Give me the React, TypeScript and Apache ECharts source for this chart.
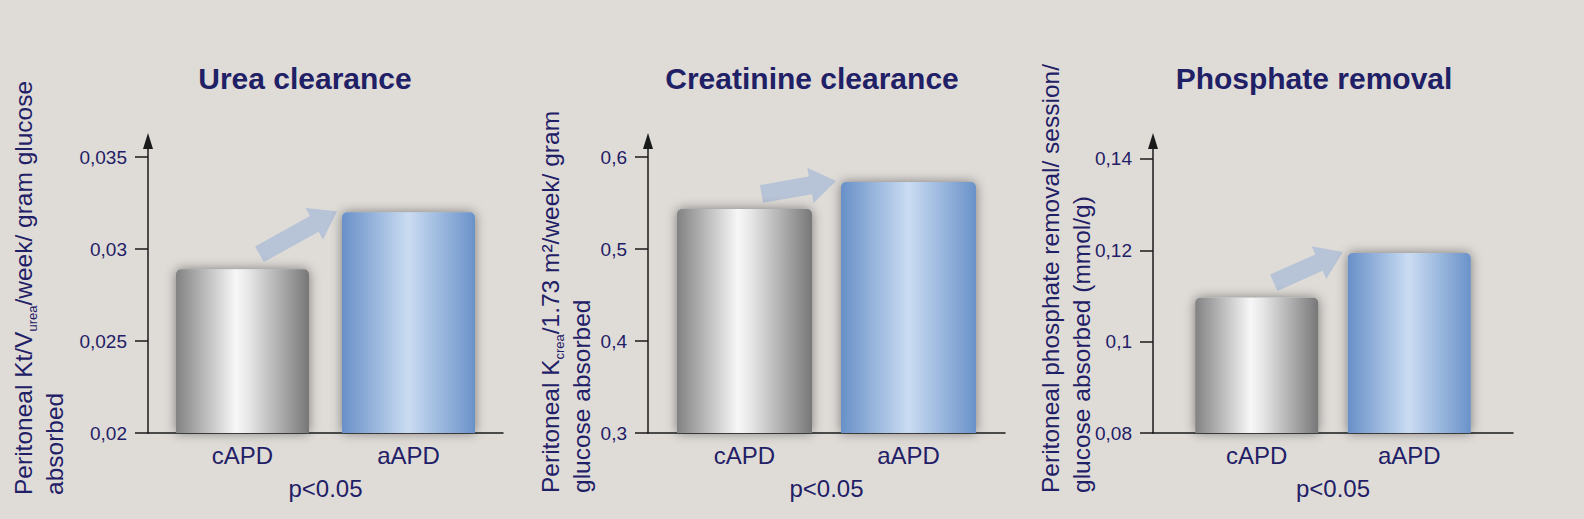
import React, { useEffect, useRef } from 'react';
import * as echarts from 'echarts';

// data
const categories = ['cAPD', 'aAPD'];
const panelTitles = ['Urea clearance', 'Creatinine clearance', 'Phosphate removal'];
const cAPDValues = [0.0289, 0.5435, 0.1096];
const aAPDValues = [0.032, 0.5728, 0.1194];
const ureaTicks = [0.02, 0.025, 0.03, 0.035];
const creaTicks = [0.3, 0.4, 0.5, 0.6];
const phosTicks = [0.08, 0.1, 0.12, 0.14];
const yTicks = [ureaTicks, creaTicks, phosTicks];
const yMax = [0.03587, 0.6174, 0.14394];
const pLabel = 'p<0.05';
const yNames = [
  '{m|Peritoneal Kt/V}{s|urea}{m|/week/ gram glucose}\n{m|absorbed}',
  '{m|Peritoneal K}{s|crea}{m|/1.73 m²/week/ gram}\n{m|glucose absorbed}',
  '{m|Peritoneal phosphate removal/ session/}\n{m|glucose absorbed (mmol/g)}',
];

// layout of the three panels
const panels = [
  { left: 148, width: 355, shift: 5.75, barW: 133, titleX: 305, nameX: 8, nameY: 495 },
  { left: 648, width: 357, shift: 7.25, barW: 135, titleX: 812, nameX: 535, nameY: 493 },
  { left: 1153, width: 360, shift: 13.75, barW: 123, titleX: 1314, nameX: 1035, nameY: 493 },
];

const FONT = '"Liberation Sans", Arial, Helvetica, sans-serif';
const NAVY = '#1f2066';
const BG = '#dfdcd8';

const grayFill = new echarts.graphic.LinearGradient(0, 0, 1, 0, [
  { offset: 0, color: '#828282' },
  { offset: 0.2, color: '#b6b6b6' },
  { offset: 0.45, color: '#f7f7f7' },
  { offset: 0.55, color: '#e6e6e6' },
  { offset: 0.8, color: '#a9a9a9' },
  { offset: 1, color: '#777777' },
]);
const blueFill = new echarts.graphic.LinearGradient(0, 0, 1, 0, [
  { offset: 0, color: '#6890c8' },
  { offset: 0.5, color: '#cadcf2' },
  { offset: 1, color: '#6a92c9' },
]);

const App: React.FC = () => {
  const chartRef = useRef<HTMLDivElement>(null);

  useEffect(() => {
    document.body.style.margin = '0';
    document.body.style.overflow = 'hidden';
    if (!chartRef.current) return;
    const chart = echarts.init(chartRef.current, null, { renderer: 'svg' });

    const grid: any[] = [];
    const xAxis: any[] = [];
    const yAxis: any[] = [];
    const series: any[] = [];
    const graphic: any[] = [];

    panels.forEach((p, i) => {
      grid.push({ left: p.left, width: p.width, top: 141, bottom: 86, outerBoundsMode: 'none' });

      xAxis.push({
        type: 'category',
        gridIndex: i,
        data: categories,
        axisLine: { lineStyle: { color: '#1a1a1a', width: 1.5 } },
        axisTick: { show: false },
        axisLabel: {
          margin: 8,
          formatter: (v: string) => (v === categories[0] ? `{r|${v}}` : `{l|${v}}`),
          rich: {
            r: { fontSize: 24, fontFamily: FONT, color: NAVY, lineHeight: 28, padding: [0, 0, 0, 2 * p.shift] },
            l: { fontSize: 24, fontFamily: FONT, color: NAVY, lineHeight: 28, padding: [0, 2 * p.shift, 0, 0] },
          },
        },
        name: pLabel,
        nameLocation: 'middle',
        nameGap: 41,
        nameTextStyle: { fontSize: 24, fontFamily: FONT, color: NAVY, lineHeight: 28 },
      });

      yAxis.push({
        type: 'value',
        gridIndex: i,
        min: yTicks[i][0],
        max: yMax[i],
        splitLine: { show: false },
        axisLine: {
          show: true,
          symbol: ['none', 'triangle'],
          symbolSize: [10, 16],
          lineStyle: { color: '#1a1a1a', width: 1.5 },
        },
        axisTick: {
          show: true,
          length: 13,
          customValues: yTicks[i],
          lineStyle: { color: '#1a1a1a', width: 1.5 },
        },
        axisLabel: {
          customValues: yTicks[i],
          margin: 21,
          fontSize: 19,
          fontFamily: FONT,
          color: NAVY,
          formatter: (v: number) => String(v).replace('.', ','),
        },
      });

      const barGap = `${((2 * p.shift) / p.barW - 1) * 100}%`;
      const barStyle = { shadowBlur: 12, shadowColor: 'rgba(0,0,0,0.45)', borderRadius: [5, 5, 0, 0] };

      // aAPD first so it takes the left slot, cAPD takes the right slot
      series.push({
        type: 'bar',
        xAxisIndex: i,
        yAxisIndex: i,
        data: ['-', aAPDValues[i]],
        barWidth: p.barW,
        barGap,
        z: 3,
        itemStyle: { ...barStyle, color: blueFill },
      });
      series.push({
        type: 'bar',
        xAxisIndex: i,
        yAxisIndex: i,
        data: [cAPDValues[i], '-'],
        barWidth: p.barW,
        barGap,
        z: 3,
        itemStyle: { ...barStyle, color: grayFill },
      });

      // arrow from the cAPD bar to the aAPD bar
      series.push({
        type: 'custom',
        xAxisIndex: i,
        yAxisIndex: i,
        silent: true,
        z: 2,
        encode: { x: 0, y: 1 },
        data: [[0, cAPDValues[i], 1, aAPDValues[i]]],
        renderItem: (_params: any, api: any) => {
          const c = api.coord([api.value(0), api.value(1)]);
          const a = api.coord([api.value(2), api.value(3)]);
          const tail = [c[0] + p.shift + 17, c[1] - 15];
          const tip = [a[0] - p.shift - p.barW / 2 - 5, a[1] - 1];
          const dx = tip[0] - tail[0];
          const dy = tip[1] - tail[1];
          const len = Math.sqrt(dx * dx + dy * dy);
          const ux = dx / len;
          const uy = dy / len;
          const nx = -uy;
          const ny = ux;
          const neck = [tip[0] - ux * 26, tip[1] - uy * 26];
          const pt = (b: number[], k: number) => [b[0] + nx * k, b[1] + ny * k];
          return {
            type: 'polygon',
            shape: {
              points: [pt(tail, 9), pt(neck, 9), pt(neck, 18), tip, pt(neck, -18), pt(neck, -9), pt(tail, -9)],
            },
            style: { fill: 'rgba(168,186,214,0.72)' },
          };
        },
      });

      graphic.push({
        type: 'text',
        x: p.titleX,
        y: 78,
        style: {
          text: panelTitles[i],
          align: 'center',
          verticalAlign: 'middle',
          fontSize: 30,
          fontWeight: 'bold',
          fontFamily: FONT,
          fill: NAVY,
        },
      });

      graphic.push({
        type: 'text',
        x: p.nameX,
        y: p.nameY,
        rotation: Math.PI / 2,
        style: {
          text: yNames[i],
          align: 'left',
          verticalAlign: 'top',
          fill: NAVY,
          fontFamily: FONT,
          fontSize: 24.5,
          rich: {
            m: { fontSize: 24.5, fontFamily: FONT, fill: NAVY, lineHeight: 31 },
            s: { fontSize: 13, fontFamily: FONT, fill: NAVY, lineHeight: 15, verticalAlign: 'bottom' },
          },
        },
      });
    });

    chart.setOption({
      animation: false,
      backgroundColor: BG,
      grid,
      xAxis,
      yAxis,
      series,
      graphic,
    });

    return () => {
      chart.dispose();
    };
  }, []);

  return <div ref={chartRef} style={{ width: 1584, height: 519 }} />;
};

export default App;
